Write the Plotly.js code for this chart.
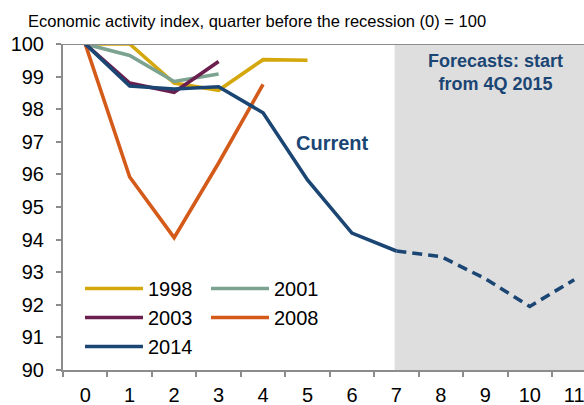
<!DOCTYPE html>
<html>
<head>
<meta charset="utf-8">
<script src="https://cdn.plot.ly/plotly-3.0.1.min.js"></script>
<style>html,body{margin:0;padding:0;background:#fff;}#chart{width:584px;height:405px;}</style>
</head>
<body>
<div id="chart"></div>
<script>
var quarters = ['0','1','2','3','4','5','6','7','8','9','10','11'];
var y1998 = [100, 100, 98.8, 98.58, 99.52, 99.5];
var y2001 = [100, 99.65, 98.85, 99.08];
var y2003 = [100, 98.8, 98.52, 99.46];
var y2008 = [100, 95.92, 94.06, 96.35, 98.76];
var y2014 = [100, 98.71, 98.62, 98.69, 97.89, 95.83, 94.2, 93.65];
var y2014Forecast = [93.65, 93.48, 92.8, 91.95, 92.77];
var forecastStart = 7;

var colors = {c1998:'#D4A80B', c2001:'#7BA390', c2003:'#6B1F4E', c2008:'#D45A1A', c2014:'#1B4674'};
function tr(name, ys, color, legend, x0, dash, showlegend) {
  var xs = [];
  for (var i = 0; i < ys.length; i++) xs.push(quarters[x0 + i]);
  return {x: xs, y: ys, name: name, type: 'scatter', mode: 'lines',
    line: {color: color, width: 3.6, dash: dash || 'solid'},
    legend: legend, showlegend: showlegend !== false, hoverinfo: 'skip'};
}
var data = [
  tr('1998', y1998, colors.c1998, 'legend', 0),
  tr('2001', y2001, colors.c2001, 'legend2', 0),
  tr('2003', y2003, colors.c2003, 'legend', 0),
  tr('2008', y2008, colors.c2008, 'legend2', 0),
  tr('2014', y2014, colors.c2014, 'legend', 0),
  tr('2014 forecast', y2014Forecast, colors.c2014, 'legend', forecastStart, '10px,6px', false)
];

var F = 'Arial, "Liberation Sans", sans-serif';
var legTop = (370-269)/326;
var layout = {
  width: 584, height: 405,
  margin: {l: 63, r: 0, t: 44, b: 35},
  paper_bgcolor: '#fff', plot_bgcolor: '#fff',
  font: {family: F, size: 20, color: '#000'},
  showlegend: true,
  title: {text: 'Economic activity index, quarter before the recession (0) = 100',
    font: {family: F, size: 16.5, color: '#000'},
    xref: 'container', x: 28/584, xanchor: 'left', yref: 'container', y: 1 - 21/405, yanchor: 'middle'},
  xaxis: {type: 'category', categoryorder: 'array', categoryarray: quarters,
    range: [-0.5, 11.22], tickson: 'boundaries', ticks: 'outside', ticklen: 5, tickwidth: 2,
    tickcolor: '#8c8c8c', showline: true, linecolor: '#8c8c8c', linewidth: 2, showgrid: false,
    zeroline: false, tickfont: {family: F, size: 20, color: '#000'}, ticklabelstandoff: 6, fixedrange: true},
  yaxis: {range: [90, 100], dtick: 1, tick0: 90, ticks: 'outside', ticklen: 5, tickwidth: 2,
    tickcolor: '#8c8c8c', showline: true, linecolor: '#8c8c8c', linewidth: 2, showgrid: false,
    zeroline: false, tickfont: {family: F, size: 20, color: '#000'}, ticklabelstandoff: 8, fixedrange: true},
  legend: {x: (80-63)/521, xanchor: 'left', y: legTop, yanchor: 'top', bgcolor: 'rgba(0,0,0,0)',
    font: {family: F, size: 20, color: '#000'}, itemwidth: 58, traceorder: 'normal'},
  legend2: {x: (206-63)/521, xanchor: 'left', y: legTop, yanchor: 'top', bgcolor: 'rgba(0,0,0,0)',
    font: {family: F, size: 20, color: '#000'}, itemwidth: 58, traceorder: 'normal'},
  shapes: [
    {type: 'rect', xref: 'x', yref: 'y', x0: forecastStart - 0.04, x1: 12, y0: 90, y1: 100,
      fillcolor: '#DEDEDE', line: {width: 0}, layer: 'below'},
    {type: 'line', xref: 'paper', yref: 'y', x0: 0, x1: 1, y0: 100, y1: 100,
      line: {color: '#8c8c8c', width: 2}, layer: 'above'}
  ],
  annotations: [
    {text: '<b>Current</b>', x: 5.56, y: 96.95, xref: 'x', yref: 'y', showarrow: false,
      font: {family: F, size: 20, color: colors.c2014}},
    {text: '<b>Forecasts: start<br>from 4Q 2015</b>', x: 9.22, y: 99.12, xref: 'x', yref: 'y', showarrow: false,
      font: {family: F, size: 18, color: colors.c2014}}
  ]
};
Plotly.newPlot('chart', data, layout, {displayModeBar: false, staticPlot: true});
</script>
</body>
</html>
